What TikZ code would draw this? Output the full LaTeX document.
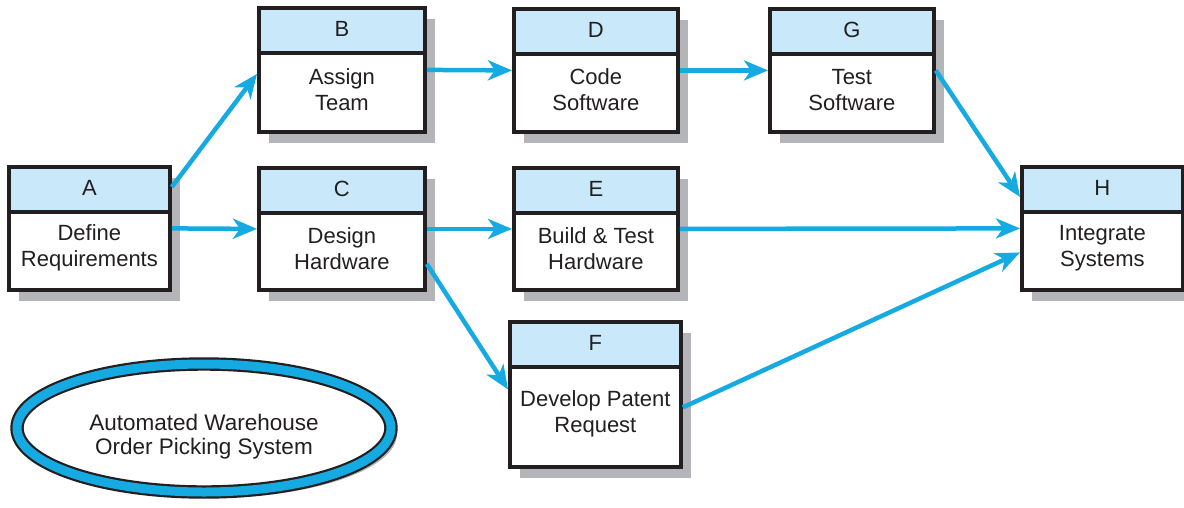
\documentclass[tikz,border=0pt]{standalone}
\usepackage{fontspec}
\setmainfont{Liberation Sans}
\usetikzlibrary{calc,arrows.meta,shapes.geometric,shadows}

\definecolor{flowblue}{RGB}{22,170,226}
\definecolor{headblue}{RGB}{201,233,250}
\definecolor{shadowgray}{RGB}{180,181,184}
\definecolor{inkdark}{RGB}{35,31,32}

\newcommand\tasktext{\fontsize{22}{26}\selectfont}

\tikzset{
  taskbox/.style={
    rectangle, inner sep=0pt, fill=white, draw=inkdark, line width=3.8pt,
    drop shadow={shadow xshift=10pt, shadow yshift=-11pt, fill=shadowgray, opacity=1},
    path picture={
      \fill[headblue] (path picture bounding box.north west)
        rectangle ([yshift=-45pt]path picture bounding box.north east);
      \draw[inkdark, line width=3.8pt]
        ([yshift=-45pt]path picture bounding box.north west)
        -- ([yshift=-45pt]path picture bounding box.north east);
    }
  },
  flow/.style={draw=flowblue, line width=4.5pt,
    -{Stealth[length=24pt, width=20pt, inset=7pt]}},
  label/.style={font=\tasktext, text=inkdark, align=center, inner sep=0pt}
}

% name, left, top, width, height, letter, description
\newcommand\activity[7]{%
  \node[taskbox, minimum width=#4pt, minimum height=#5pt, anchor=north west] (#1) at (#2,#3) {};
  \node[label] (#1-id) at ([yshift=-22.5pt]#1.north) {#6};
  \node[label] (#1-text) at ($(#1.south)!0.5!([yshift=-45pt]#1.north)+(0,-3)$) {#7};
}

\begin{document}
\begin{tikzpicture}[x=1pt, y=-1pt]
  \useasboundingbox (0,0) rectangle (1184,507);

  % activities
  \activity{A}{7}{165}{161}{123}{A}{Define\\Requirements}
  \activity{B}{257}{6}{166}{124}{B}{Assign\\Team}
  \activity{C}{257}{166}{166}{122}{C}{Design\\Hardware}
  \activity{D}{512}{7}{164}{123}{D}{Code\\Software}
  \activity{E}{512}{166}{164}{122}{E}{Build \& Test\\Hardware}
  \activity{F}{508}{320}{171}{145}{F}{Develop Patent\\Request}
  \activity{G}{768}{7}{164}{123}{G}{Test\\Software}
  \activity{H}{1020}{165}{161}{123}{H}{Integrate\\Systems}

  % precedence arrows
  \draw[flow] ([yshift=-22pt]A.north east) -- ([yshift=-4pt]B.west);
  \draw[flow] (A.east) -- (C.west);
  \draw[flow] (B.east) -- (D.west);
  \draw[flow] (D.east) -- (G.west);
  \draw[flow] (G.east) -- ([yshift=-32pt]H.north west);
  \draw[flow] (C.east) -- (E.west);
  \draw[flow] (E.east) -- (H.west);
  \draw[flow] ([yshift=-35pt]C.east) -- ([yshift=5pt]F.west);
  \draw[flow] ([yshift=-13pt]F.east) -- ([yshift=-24pt]H.west);

  % project title
  \node[ellipse, minimum width=374pt, minimum height=128pt, inner sep=0pt,
        fill=white, draw=inkdark, line width=2.2pt,
        double=flowblue, double distance=9pt,
        drop shadow={shadow xshift=6pt, shadow yshift=-6pt, fill=shadowgray, opacity=1}]
        (system) at (204,428) {};
  \node[label, font=\fontsize{22.5}{24}\selectfont] (system-text) at (204,437)
        {Automated Warehouse\\Order Picking System};
\end{tikzpicture}
\end{document}
